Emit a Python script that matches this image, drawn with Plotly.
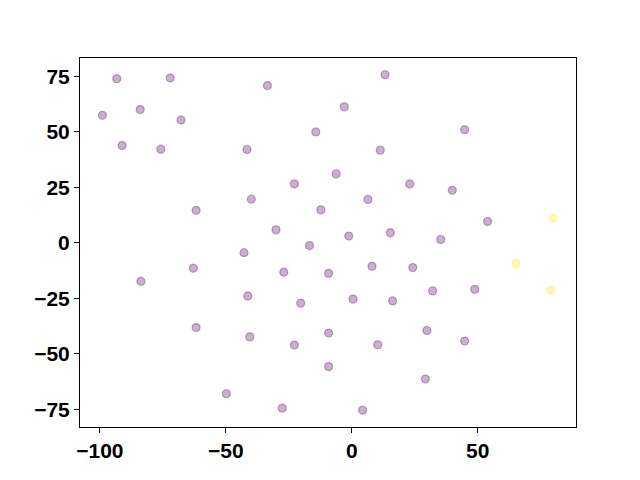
import plotly.graph_objects as go

x_vals = [-93.3, -72.1, -33.5, 13.2, -99.0, -84.0, -67.8, -3.0, -14.3, 44.8,
          -91.2, -75.8, -41.6, 11.3, -6.2, -22.8, 23.0, 39.9, -39.9, 6.4,
          -61.8, -12.3, 53.9, 80.0, -30.1, 15.3, -1.2, 35.3, -16.8, -42.8,
          65.2, -62.9, 8.0, 24.2, -27.0, -9.2, -83.7, 78.9, 48.8, 32.1,
          -41.3, 0.5, -20.3, 16.2, -61.8, 29.8, -9.2, -40.5, 44.8, -22.8,
          10.3, -9.2, 29.2, -49.8, -27.6, 4.3]
y_vals = [73.9, 74.2, 70.8, 75.7, 57.4, 60.0, 55.3, 61.2, 49.9, 50.9,
          43.8, 42.1, 42.0, 41.7, 31.0, 26.5, 26.5, 23.6, 19.6, 19.5,
          14.6, 14.8, 9.6, 11.0, 5.8, 4.5, 3.0, 1.5, -1.3, -4.5,
          -9.4, -11.5, -10.6, -11.2, -13.3, -13.8, -17.4, -21.4, -21.0, -21.7,
          -24.0, -25.4, -27.2, -26.2, -38.2, -39.5, -40.7, -42.4, -44.3, -46.1,
          -45.9, -55.8, -61.4, -68.0, -74.5, -75.4]
labels = [0, 0, 0, 0, 0, 0, 0, 0, 0, 0,
          0, 0, 0, 0, 0, 0, 0, 0, 0, 0,
          0, 0, 0, 1, 0, 0, 0, 0, 0, 0,
          1, 0, 0, 0, 0, 0, 0, 1, 0, 0,
          0, 0, 0, 0, 0, 0, 0, 0, 0, 0,
          0, 0, 0, 0, 0, 0]
x_ticks = [-100, -50, 0, 50]
y_ticks = [-75, -50, -25, 0, 25, 50, 75]

palette = {0: "rgba(68,1,84,0.3)", 1: "rgba(253,231,37,0.3)"}
point_colors = [palette[l] for l in labels]

fig = go.Figure(go.Scatter(
    x=x_vals, y=y_vals, mode="markers",
    marker=dict(size=8, color=point_colors, line=dict(width=1.3, color=point_colors)),
    showlegend=False,
))

axis_common = dict(showgrid=False, zeroline=False, showline=True, linecolor="black",
                   linewidth=1, mirror=True, ticks="outside", ticklen=5, tickwidth=1,
                   tickcolor="black",
                   tickfont=dict(family="Liberation Sans", size=21, color="black", weight="bold"))
fig.update_xaxes(range=[-107.9, 89.0], tickvals=x_ticks, **axis_common)
fig.update_yaxes(range=[-83.0, 83.2], tickvals=y_ticks, **axis_common)
fig.update_layout(width=640, height=480, margin=dict(l=72, r=72, t=50, b=61),
                  plot_bgcolor="white", paper_bgcolor="white")
fig.write_html("out.html")
